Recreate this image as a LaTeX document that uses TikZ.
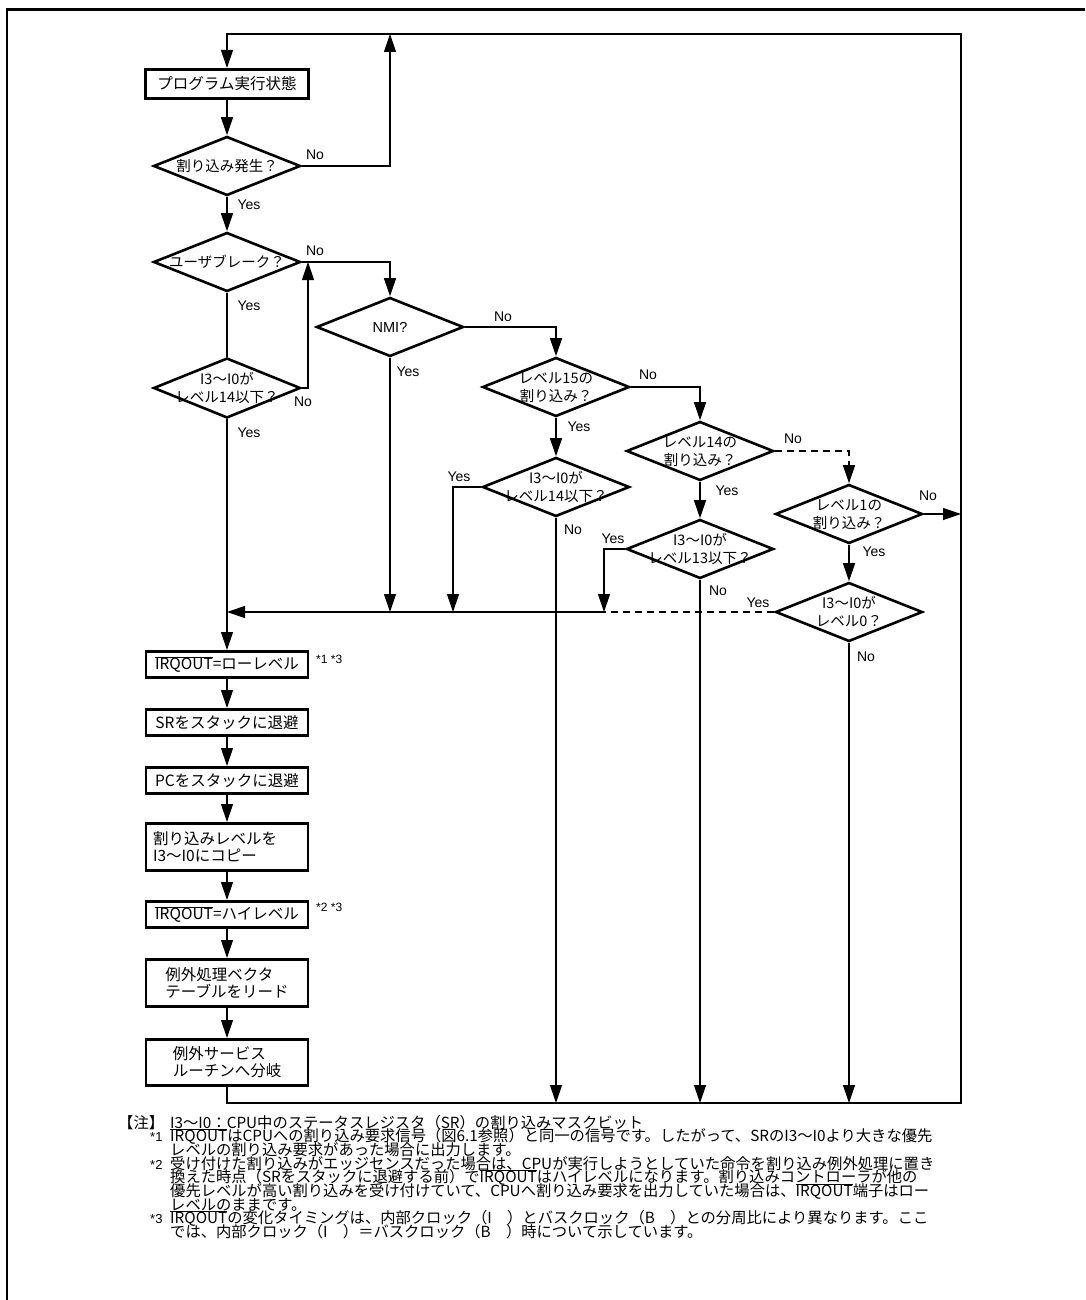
\documentclass[tikz,border=0pt]{standalone}
\usepackage{fontspec}
\setmainfont{Liberation Sans}
\newfontfamily\jp{Noto Sans CJK JP}
\usetikzlibrary{shapes.geometric,arrows.meta}
\newcommand{\ovl}[1]{$\overline{\mbox{#1}}$}
\newcommand{\dtxt}[1]{\makebox[0pt]{\smash{\raisebox{-5.5pt}{\begin{tabular}{@{}c@{}}#1\end{tabular}}}}}
\begin{document}
\begin{tikzpicture}[x=1pt,y=-1pt,
  conn/.style={line width=1.2pt},
  arr/.style={conn,-{Triangle[length=18pt,width=12pt]}},
  dashconn/.style={conn,dash pattern=on 7pt off 5pt},
  box/.style={draw,line width=2.6pt,minimum width=162pt,inner sep=0pt,font=\jp\fontsize{15.5}{17}\selectfont,align=left},
  dia/.style={diamond,draw,line width=2.6pt,minimum width=147pt,minimum height=59pt,inner sep=0pt,font=\jp\fontsize{14.5}{17.5}\selectfont},
  lab/.style={font=\fontsize{14}{16}\selectfont,inner sep=0pt},
  note/.style={font=\jp\fontsize{15.3}{14}\selectfont,inner sep=0pt,anchor=base west},
  star/.style={font=\fontsize{13}{14}\selectfont,inner sep=0pt,anchor=base west},
  ann/.style={font=\fontsize{12}{13}\selectfont,inner sep=0pt,anchor=west}
]
\useasboundingbox (0,0) rectangle (1085,1300);
\fill[white] (0,0) rectangle (1085,1300);
% outer frame
\draw[line width=2.8pt] (7,1300) -- (7,9.5) -- (1085,9.5);

% boxes
\node[box,minimum width=163pt,minimum height=29.4pt] (prog) at (227,84) {プログラム実行状態};
\node[box,minimum height=26.4pt] (irq1) at (227,664.5) {\ovl{IRQOUT}=ローレベル};
\node[box,minimum height=26.4pt] (sr) at (227,722.5) {SRをスタックに退避};
\node[box,minimum height=26.4pt] (pc) at (227,780.5) {PCをスタックに退避};
\node[box,minimum height=47.4pt] (copy) at (227,847) {\makebox[148pt][l]{割り込みレベルを}\\I3～I0にコピー};
\node[box,minimum height=26.4pt] (irq2) at (227,914.5) {\ovl{IRQOUT}=ハイレベル};
\node[box,minimum height=47.4pt] (vec) at (227,983) {例外処理ベクタ\\テーブルをリード};
\node[box,minimum height=46.4pt] (svc) at (227,1062.5) {例外サービス\\ルーチンへ分岐};
\node[ann] (a1) at (316,659) {*1 *3};
\node[ann] (a2) at (316,907) {*2 *3};

% diamonds
\node[dia] (int) at (227,166) {\dtxt{割り込み発生？}};
\node[dia] (ub) at (227,262) {\dtxt{ユーザブレーク？}};
\node[dia,minimum height=60pt] (l14a) at (227,388) {\dtxt{I3～I0が\\レベル14以下？}};
\node[dia] (nmi) at (390,327) {\dtxt{\rmfamily NMI?}};
\node[dia] (l15) at (556,387) {\dtxt{レベル15の\\割り込み？}};
\node[dia] (l14b) at (556,487) {\dtxt{I3～I0が\\レベル14以下？}};
\node[dia] (lv14) at (700,451) {\dtxt{レベル14の\\割り込み？}};
\node[dia] (l13) at (700,549) {\dtxt{I3～I0が\\レベル13以下？}};
\node[dia] (lv1) at (849,514) {\dtxt{レベル1の\\割り込み？}};
\node[dia] (l0) at (849,612) {\dtxt{I3～I0が\\レベル0？}};

% coordinates
\coordinate (tl) at (227,34);
\coordinate (tr) at (961,34);
\coordinate (br) at (961,1103);
\coordinate (bl) at (227,1103);
\coordinate (c1) at (390,166);
\coordinate (c1t) at (390,34);
\coordinate (c2) at (390,262);
\coordinate (c3) at (308,388);
\coordinate (c3t) at (308,262);
\coordinate (m0) at (227,612);
\coordinate (m1) at (390,612);
\coordinate (m2) at (453,612);
\coordinate (m3) at (604,612);
\coordinate (c4) at (556,327);
\coordinate (c5) at (700,387);
\coordinate (c6) at (453,487);
\coordinate (c7) at (849,451);
\coordinate (c8) at (604,549);
\coordinate (r1) at (961,514);
\coordinate (b1) at (556,1103);
\coordinate (b2) at (700,1103);
\coordinate (b3) at (849,1103);

% connectors
\draw[arr] (svc.south) -- (bl) -- (br) -- (tr) -- (tl) -- (prog.north);
\draw[arr] (prog.south) -- (int.north);
\draw[arr] (int.east) -- (c1) -- (c1t);
\draw[arr] (int.south) -- (ub.north);
\draw[arr] (ub.east) -- (c2) -- (nmi.north);
\draw[conn] (ub.south) -- (l14a.north);
\draw[arr] (l14a.east) -- (c3) -- (c3t);
\draw[arr] (l14a.south) -- (irq1.north);
\draw[arr] (nmi.south) -- (m1);
\draw[arr] (nmi.east) -- (c4) -- (l15.north);
\draw[arr] (l15.east) -- (c5) -- (lv14.north);
\draw[arr] (l15.south) -- (l14b.north);
\draw[arr] (l14b.west) -- (c6) -- (m2);
\draw[arr] (l14b.south) -- (b1);
\draw[arr,dash pattern=on 7pt off 5pt] (lv14.east) -- (c7) -- (lv1.north);
\draw[arr] (lv14.south) -- (l13.north);
\draw[arr] (l13.west) -- (c8) -- (m3);
\draw[arr] (l13.south) -- (b2);
\draw[arr] (lv1.east) -- (r1);
\draw[arr] (lv1.south) -- (l0.north);
\draw[arr] (l0.south) -- (b3);
\draw[dashconn] (l0.west) -- (m3);
\draw[arr] (m3) -- (m0);
\draw[arr] (irq1.south) -- (sr.north);
\draw[arr] (sr.south) -- (pc.north);
\draw[arr] (pc.south) -- (copy.north);
\draw[arr] (copy.south) -- (irq2.north);
\draw[arr] (irq2.south) -- (vec.north);
\draw[arr] (vec.south) -- (svc.north);

% labels
\node[lab] (y1) at (249,205) {Yes};
\node[lab] (n1) at (315,155) {No};
\node[lab] (n2) at (315,251) {No};
\node[lab] (y2) at (249,306) {Yes};
\node[lab] (n3) at (303,402) {No};
\node[lab] (y3) at (249,433) {Yes};
\node[lab] (y4) at (408,372) {Yes};
\node[lab] (n4) at (503,317) {No};
\node[lab] (n5) at (648,375) {No};
\node[lab] (y5) at (579,427) {Yes};
\node[lab] (y6) at (459,477) {Yes};
\node[lab] (n6) at (573,530) {No};
\node[lab] (n7) at (793,439) {No};
\node[lab] (y7) at (727,491) {Yes};
\node[lab] (y8) at (613,539) {Yes};
\node[lab] (n8) at (718,591) {No};
\node[lab] (n9) at (928,496) {No};
\node[lab] (y9) at (874,552) {Yes};
\node[lab] (y10) at (758,603) {Yes};
\node[lab] (n10) at (866,657) {No};

% notes
\node[note] (t0h) at (118,1128) {【注】};
\node[note] (t0) at (170,1128) {I3～I0：CPU中のステータスレジスタ（SR）の割り込みマスクビット};
\node[star] (s1) at (150,1141.7) {*1};
\node[note] (t1) at (170,1141.7) {\ovl{IRQOUT}はCPUへの割り込み要求信号（図6.1参照）と同一の信号です。したがって、SRのI3～I0より大きな優先};
\node[note] (t2) at (170,1155.4) {レベルの割り込み要求があった場合に出力します。};
\node[star] (s2) at (150,1169.1) {*2};
\node[note] (t3) at (170,1169.1) {受け付けた割り込みがエッジセンスだった場合は、CPUが実行しようとしていた命令を割り込み例外処理に置き};
\node[note] (t4) at (170,1182.8) {換えた時点（SRをスタックに退避する前）で\ovl{IRQOUT}はハイレベルになります。割り込みコントローラが他の};
\node[note] (t5) at (170,1196.5) {優先レベルが高い割り込みを受け付けていて、CPUへ割り込み要求を出力していた場合は、\ovl{IRQOUT}端子はロー};
\node[note] (t6) at (170,1210.2) {レベルのままです。};
\node[star] (s3) at (150,1223.9) {*3};
\node[note] (t7) at (170,1223.9) {\ovl{IRQOUT}の変化タイミングは、内部クロック（I　）とバスクロック（B　）との分周比により異なります。ここ};
\node[note] (t8) at (170,1237.6) {では、内部クロック（I　）＝バスクロック（B　）時について示しています。};
\end{tikzpicture}
\end{document}
